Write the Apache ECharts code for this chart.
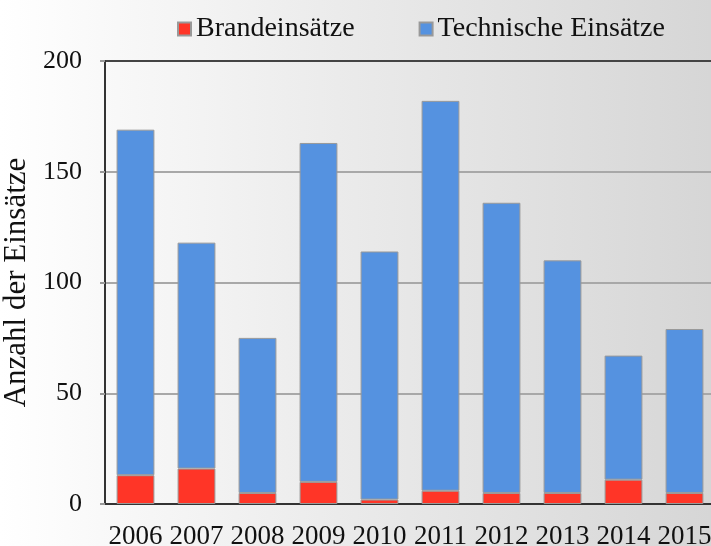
<!DOCTYPE html>
<html><head><meta charset="utf-8">
<script src="https://cdn.jsdelivr.net/npm/echarts@6/dist/echarts.min.js"></script>
<style>html,body{margin:0;padding:0;}#c{width:711px;height:546px;background:linear-gradient(90deg,#ffffff 0%,#ececec 45%,#d6d6d6 100%);}</style>
</head><body><div id="c"></div>
<script>
const years = ['2006','2007','2008','2009','2010','2011','2012','2013','2014','2015'];
const brand = [13, 16, 5, 10, 2, 6, 5, 5, 11, 5];
const technisch = [156, 102, 70, 153, 112, 176, 131, 105, 56, 74];
const yTicks = [0, 50, 100, 150, 200];
const font = '"Liberation Serif", "DejaVu Serif", serif';
const chart = echarts.init(document.getElementById('c'), null, {renderer:'canvas'});
chart.setOption({
  backgroundColor: 'transparent',
  textStyle: {fontFamily: font},
  legend: {
    top: 10, left: 172, itemWidth: 13, itemHeight: 13, itemGap: 64,
    icon: 'rect',
    textStyle: {fontFamily: font, fontSize: 28, color: '#111', padding: [0,0,0,0]},
    data: ['Brandeinsätze', 'Technische Einsätze']
  },
  grid: {left: 105, top: 61, width: 610, height: 443, show: true, borderColor: '#444', borderWidth: 2,
         backgroundColor: 'transparent', containLabel: false, outerBoundsMode: 'none'},
  xAxis: {
    type: 'category', data: years,
    axisLine: {lineStyle: {color: '#333', width: 2}},
    axisTick: {show: false},
    axisLabel: {fontFamily: font, fontSize: 27, color: '#111', margin: 19, interval: 0, hideOverlap: false}
  },
  yAxis: {
    type: 'value', min: yTicks[0], max: yTicks[yTicks.length-1], interval: 50,
    name: 'Anzahl der Einsätze', nameLocation: 'middle', nameGap: 70,
    nameTextStyle: {fontFamily: font, fontSize: 31, color: '#111'},
    axisLine: {show: true, lineStyle: {color: '#333', width: 2}},
    axisTick: {show: true, length: 5, lineStyle: {color: '#999', width: 2}},
    axisLabel: {fontFamily: font, fontSize: 26, color: '#111', margin: 23},
    splitLine: {showMinLine: false, showMaxLine: false, lineStyle: {color: '#a8a8a8', width: 2}}
  },
  series: [
    {name: 'Brandeinsätze', type: 'bar', stack: 't', data: brand, barWidth: '62%',
     itemStyle: {color: '#ff3527', borderColor: '#999', borderWidth: 1}},
    {name: 'Technische Einsätze', type: 'bar', stack: 't', data: technisch, barWidth: '62%',
     itemStyle: {color: '#5592e0', borderColor: '#999', borderWidth: 1}}
  ]
});
</script></body></html>
